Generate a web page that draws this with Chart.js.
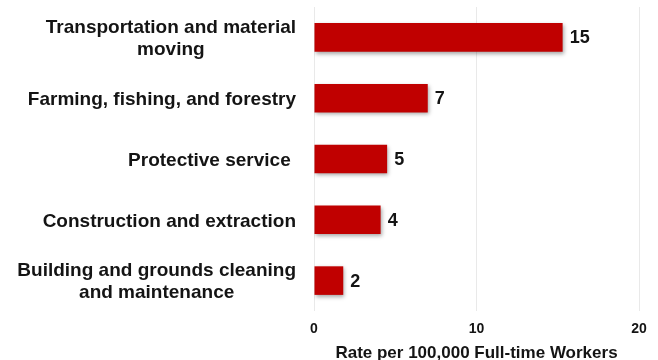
<!DOCTYPE html>
<html>
<head>
<meta charset="utf-8">
<script src="https://cdn.jsdelivr.net/npm/chart.js@4/dist/chart.umd.min.js"></script>
<style>
    html, body {
        margin: 0;
        padding: 0;
        background: #ffffff;
        overflow: hidden;
    }
    #wrap {
        position: relative;
        width: 658px;
        height: 366px;
    }
</style>
</head>
<body>
<div id="wrap"><canvas id="rateChart"></canvas></div>
<script>
const categories = [
    ["Transportation and material", "moving"],
    ["Farming, fishing, and forestry"],
    ["Protective service "],
    ["Construction and extraction"],
    ["Building and grounds cleaning", "and maintenance"]
];
const rates = [15.3, 7.0, 4.5, 4.1, 1.8];
const xTicks = [0, 10, 20];
const axisTitle = "Rate per 100,000 Full-time Workers";

const barColor = '#c00000';
const textColor = '#141414';
const fontFamily = "'Liberation Sans', Arial, sans-serif";

// soft drop shadow under the bars
const barShadow = {
    id: 'barShadow',
    beforeDatasetsDraw(chart) {
        const ctx = chart.ctx;
        ctx.save();
        ctx.shadowColor = 'rgba(0, 0, 0, 0.35)';
        ctx.shadowBlur = 4;
        ctx.shadowOffsetX = 1;
        ctx.shadowOffsetY = 2;
    },
    afterDatasetsDraw(chart) {
        chart.ctx.restore();
    }
};

// category names: block right-aligned, lines centred inside the block
const categoryLabels = {
    id: 'categoryLabels',
    afterDraw(chart) {
        const ctx = chart.ctx;
        const yScale = chart.scales.y;
        const right = chart.chartArea.left - 18;
        const lineH = 22;
        ctx.save();
        ctx.font = `bold 19px ${fontFamily}`;
        ctx.fillStyle = textColor;
        ctx.textAlign = 'center';
        ctx.textBaseline = 'middle';
        categories.forEach((lines, i) => {
            const y = yScale.getPixelForValue(i) + 1.5;
            const w = Math.max(...lines.map(l => ctx.measureText(l).width));
            const cx = right - w / 2;
            lines.forEach((line, j) => {
                ctx.fillText(line, cx, y + (j - (lines.length - 1) / 2) * lineH);
            });
        });
        ctx.restore();
    }
};

// value labels just past the end of each bar
const valueLabels = {
    id: 'valueLabels',
    afterDraw(chart) {
        const ctx = chart.ctx;
        const meta = chart.getDatasetMeta(0);
        ctx.save();
        ctx.font = `bold 18px ${fontFamily}`;
        ctx.fillStyle = textColor;
        ctx.textAlign = 'left';
        ctx.textBaseline = 'middle';
        meta.data.forEach((bar, i) => {
            ctx.fillText(String(Math.round(rates[i])), bar.x + 7, bar.y + 1);
        });
        ctx.restore();
    }
};

new Chart(document.getElementById('rateChart'), {
    type: 'bar',
    data: {
        labels: categories,
        datasets: [{
            data: rates,
            backgroundColor: barColor,
            borderWidth: 0,
            categoryPercentage: 1,
            barPercentage: 0.47
        }]
    },
    options: {
        indexAxis: 'y',
        responsive: true,
        maintainAspectRatio: false,
        animation: false,
        layout: {
            padding: { top: 7, right: 19, bottom: 0, left: 0 }
        },
        plugins: {
            legend: { display: false },
            tooltip: { enabled: false }
        },
        scales: {
            x: {
                min: xTicks[0],
                max: xTicks[xTicks.length - 1],
                afterBuildTicks(scale) {
                    scale.ticks = xTicks.map(v => ({ value: v }));
                },
                afterFit(scale) {
                    scale.height = 55;
                },
                grid: {
                    color: '#e9e9e9',
                    lineWidth: 1,
                    drawTicks: false
                },
                border: { display: false },
                ticks: {
                    padding: 10,
                    color: textColor,
                    font: { family: fontFamily, size: 14, weight: 'bold' }
                },
                title: {
                    display: true,
                    text: axisTitle,
                    color: textColor,
                    padding: { top: 5, bottom: 2 },
                    font: { family: fontFamily, size: 17, weight: 'bold' }
                }
            },
            y: {
                grid: { display: false },
                border: { display: false },
                ticks: { display: false },
                afterFit(scale) {
                    scale.width = 314;
                }
            }
        }
    },
    plugins: [barShadow, categoryLabels, valueLabels]
});
</script>
</body>
</html>
